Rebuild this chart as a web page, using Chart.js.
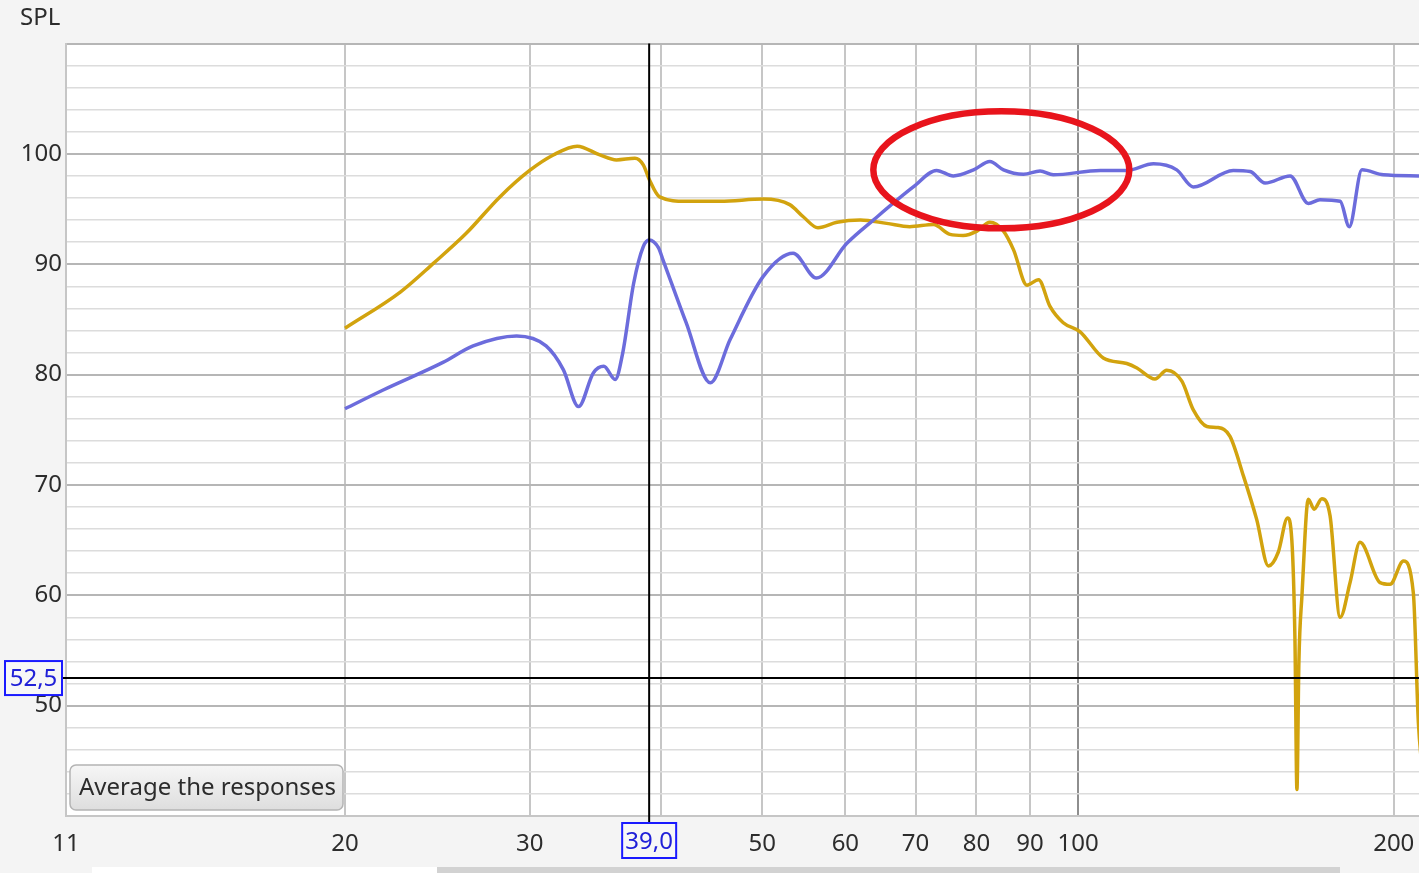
<!DOCTYPE html>
<html><head><meta charset="utf-8">
<script src="https://cdn.jsdelivr.net/npm/chart.js@4.4.1/dist/chart.umd.min.js"></script>
<style>html,body{margin:0;padding:0;background:#f4f4f4;overflow:hidden}canvas{display:block}</style>
</head><body>
<canvas id="c" width="1419" height="873"></canvas>
<script>
// ---- data ----
const freqYellow = [20, 22.6, 24.3, 26.1, 28.1, 30.0, 31.6, 33.3, 35.0, 36.3, 37.8, 38.5, 39.0, 39.9, 42.3, 45.6, 50.1, 53.1, 54.7, 56.5, 58.9, 62.0, 65.7, 69.1, 72.8, 75.5, 77.7, 80.1, 82.4, 84.9, 86.8, 89.4, 91.7, 94.0, 96.8, 100.4, 105.7, 111.3, 113.8, 118.4, 121.5, 125.6, 128.8, 132.7, 136.0, 139.6, 143.8, 148.0, 151.9, 155.2, 158.4, 159.9, 161.0, 161.7, 162.4, 163.5, 165.8, 167.9, 170.8, 173.9, 177.8, 181.7, 185.7, 194.1, 198.4, 204.3, 208.8, 211.1, 213];
const splYellow  = [84.2, 87.5, 90.1, 92.8, 96.1, 98.5, 99.9, 100.7, 99.9, 99.45, 99.6, 99.0, 97.7, 96.1, 95.7, 95.7, 95.9, 95.4, 94.3, 93.3, 93.8, 94.0, 93.7, 93.4, 93.6, 92.7, 92.6, 93.0, 93.8, 93.0, 91.3, 88.1, 88.6, 86.2, 84.7, 83.9, 81.5, 81.0, 80.6, 79.6, 80.4, 79.4, 76.8, 75.3, 75.2, 74.4, 70.8, 66.9, 62.65, 63.9, 67.0, 65.0, 56.0, 42.4, 54.0, 60.0, 68.7, 67.8, 68.75, 67.2, 58.0, 61.15, 64.8, 61.15, 61.0, 63.1, 60.2, 48.5, 44.0];
const freqBlue = [20, 21.75, 24.8, 26.5, 29.15, 31.1, 32.3, 33.4, 34.5, 35.3, 36.2, 36.8, 37.7, 38.5, 39.0, 39.8, 40.2, 42.3, 44.6, 46.6, 50.1, 53.5, 56.3, 60.2, 63.8, 69.65, 73.3, 76.05, 79.5, 82.4, 84.9, 88.7, 92.0, 94.7, 105.0, 111.3, 118.0, 124.2, 128.8, 140.6, 145.9, 150.8, 159.3, 165.8, 170.1, 177.8, 181.4, 186.5, 195.5, 211.4];
const splBlue  = [76.9, 78.6, 81.1, 82.6, 83.5, 82.6, 80.45, 77.1, 80.15, 80.75, 79.55, 81.95, 88.3, 91.6, 92.2, 91.5, 90.4, 84.7, 79.25, 83.2, 88.9, 91.0, 88.75, 91.9, 94.0, 97.0, 98.5, 98.0, 98.55, 99.3, 98.55, 98.15, 98.45, 98.1, 98.5, 98.5, 99.1, 98.55, 97.0, 98.5, 98.4, 97.35, 98.0, 95.5, 95.85, 95.7, 93.4, 98.55, 98.1, 98.0];
const xTickValues = [10.84, 20, 30, 40, 50, 60, 70, 80, 90, 100, 200];
const xTickLabels = ['11', '20', '30', '', '50', '60', '70', '80', '90', '100', '200'];
const yLabelValues = [50, 60, 70, 80, 90, 100];
const yAxisTitle = 'SPL';
const cursorFreq = 39.0, cursorFreqLabel = '39,0';
const cursorSpl = 52.5, cursorSplLabel = '52,5';
const buttonLabel = 'Average the responses';
const ellipseCenter = {freq: 84.5, spl: 98.55};

const FONT = '"Noto Sans", "Open Sans", sans-serif';
const FS = 24;
const TEXT = '#2c2c2c';

const deco = {
  id: 'deco',
  beforeDraw(chart) {
    const {ctx, chartArea: a} = chart;
    ctx.save();
    ctx.fillStyle = '#f4f4f4';
    ctx.fillRect(0, 0, chart.width, chart.height);
    ctx.fillStyle = '#ffffff';
    ctx.fillRect(a.left, a.top, a.right - a.left, a.bottom - a.top);
    ctx.restore();
  },
  afterDatasetsDraw(chart) {
    const {ctx, chartArea: a, scales: {x, y}} = chart;
    ctx.save();
    // crosshair
    const cx = x.getPixelForValue(cursorFreq);
    const cy = y.getPixelForValue(cursorSpl);
    ctx.strokeStyle = '#000';
    ctx.lineWidth = 2;
    ctx.beginPath();
    ctx.moveTo(cx, a.top); ctx.lineTo(cx, a.bottom + 8);
    ctx.moveTo(a.left - 4, cy); ctx.lineTo(a.right, cy);
    ctx.stroke();
    // red ellipse
    const ex = x.getPixelForValue(ellipseCenter.freq);
    const ey = y.getPixelForValue(ellipseCenter.spl);
    ctx.strokeStyle = '#e8141c';
    ctx.lineWidth = 6.5;
    ctx.beginPath();
    ctx.ellipse(ex, ey, 128, 58.5, 0, 0, Math.PI * 2);
    ctx.stroke();
    // button
    const bx = 70, by = 765, bw = 273, bh = 45;
    const g = ctx.createLinearGradient(0, by, 0, by + bh);
    g.addColorStop(0, '#f6f6f6');
    g.addColorStop(1, '#dedede');
    ctx.fillStyle = g;
    ctx.strokeStyle = '#b4b4b4';
    ctx.lineWidth = 1.5;
    ctx.beginPath();
    ctx.roundRect(bx, by, bw, bh, 6);
    ctx.fill(); ctx.stroke();
    ctx.fillStyle = TEXT;
    ctx.font = FS + 'px ' + FONT;
    ctx.textAlign = 'left';
    ctx.textBaseline = 'middle';
    ctx.fillText(buttonLabel, bx + 9, by + bh / 2 + 1);
    ctx.restore();
  },
  afterDraw(chart) {
    const {ctx, scales: {x, y}} = chart;
    ctx.save();
    const cx = x.getPixelForValue(cursorFreq);
    const cy = y.getPixelForValue(cursorSpl);
    ctx.font = FS + 'px ' + FONT;
    ctx.textAlign = 'center';
    ctx.textBaseline = 'middle';
    // x cursor box
    ctx.fillStyle = '#f7f7f7';
    ctx.fillRect(cx - 27, 823, 54, 35);
    ctx.strokeStyle = '#1a1aff';
    ctx.lineWidth = 2;
    ctx.strokeRect(cx - 27, 823, 54, 35);
    ctx.fillStyle = '#2020d8';
    ctx.fillText(cursorFreqLabel, cx, 842);
    // y cursor box
    ctx.fillStyle = '#f7f7f7';
    ctx.fillRect(5, cy - 17, 57, 34);
    ctx.strokeStyle = '#1a1aff';
    ctx.strokeRect(5, cy - 17, 57, 34);
    ctx.fillStyle = '#2020d8';
    ctx.fillText(cursorSplLabel, 33.5, cy + 1);
    // scrollbar strip
    ctx.fillStyle = '#ffffff';
    ctx.fillRect(92, 867, 345, 6);
    ctx.fillStyle = '#d2d2d2';
    ctx.fillRect(437, 867, 903, 6);
    ctx.restore();
  }
};

new Chart(document.getElementById('c'), {
  type: 'line',
  data: {
    datasets: [
      {label: 'Blue', data: freqBlue.map((f, i) => ({x: f, y: splBlue[i]})), borderColor: '#6c6cdc', borderWidth: 3.5, pointRadius: 0, cubicInterpolationMode: 'monotone'},
      {label: 'Yellow', data: freqYellow.map((f, i) => ({x: f, y: splYellow[i]})), borderColor: '#d2a30e', borderWidth: 3.5, pointRadius: 0, cubicInterpolationMode: 'monotone'}
    ]
  },
  options: {
    responsive: false, animation: false, events: [],
    layout: {padding: {left: 20, right: 0, top: 0, bottom: 0}},
    plugins: {
      legend: {display: false}, tooltip: {enabled: false},
      title: {display: true, text: yAxisTitle, align: 'start', color: TEXT, font: {family: FONT, size: FS, weight: 'normal'}, padding: {top: 4, bottom: 10.7}}
    },
    scales: {
      x: {
        type: 'logarithmic', min: 10.84, max: 211.4,
        afterBuildTicks: s => { s.ticks = xTickValues.map(v => ({value: v})); },
        afterFit: s => { s.height = 57; s.paddingLeft = 0; s.paddingRight = 0; },
        ticks: {autoSkip: false, maxRotation: 0, minRotation: 0, padding: 14, color: TEXT, font: {family: FONT, size: FS},
                callback: (v, i) => xTickLabels[i]},
        grid: {drawTicks: false, color: c => (c.tick && c.tick.value === 100) ? '#8e8e8e' : '#c6c6c6', lineWidth: 2},
        border: {color: '#c6c6c6', width: 2}
      },
      y: {
        min: 40, max: 110,
        afterFit: s => { s.width = 46; s.paddingTop = 0; s.paddingBottom = 0; },
        ticks: {stepSize: 2, autoSkip: false, padding: 4, color: TEXT, font: {family: FONT, size: FS},
                callback: v => yLabelValues.includes(v) ? String(v) : ''},
        grid: {drawTicks: false, color: c => (c.tick && c.tick.value % 10 === 0) ? '#b6b6b6' : '#dcdcdc', lineWidth: c => (c.tick && c.tick.value % 10 === 0) ? 2 : 1.5},
        border: {color: '#c6c6c6', width: 2}
      }
    }
  },
  plugins: [deco]
});
</script>
</body></html>
